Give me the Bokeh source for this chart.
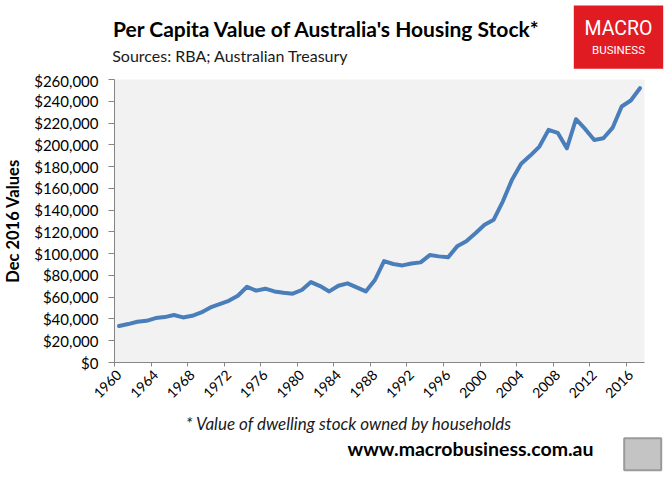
import numpy as np
from bokeh.plotting import figure
from bokeh.layouts import column
from bokeh.models import Label, FixedTicker, NumeralTickFormatter, Range1d
from bokeh.embed import file_html
from bokeh.resources import INLINE

years = list(range(1960, 2018))
values = [33500, 35300, 37400, 38300, 40800, 41700, 43600, 41400, 42900, 46000,
          50600, 53700, 56700, 61300, 69600, 66000, 67800, 65300, 64100, 63200,
          66600, 73900, 70200, 65300, 70500, 72700, 69000, 65300, 75800, 93200,
          90500, 89200, 91000, 92000, 98700, 97500, 96600, 106700, 111300, 118700,
          126600, 131200, 148100, 168000, 182500, 190100, 198400, 213700, 211000, 196800,
          223500, 214600, 204500, 206000, 215500, 235200, 240700, 252000]
tick_years = list(range(1960, 2017, 4))
y_ticks = list(range(0, 260001, 20000))

TITLE = "Per Capita Value of Australia's Housing Stock*"
SUBTITLE = "Sources: RBA; Australian Treasury"
YLABEL = "Dec 2016 Values"
FOOTNOTE = "* Value of dwelling stock owned by households"
URL = "www.macrobusiness.com.au"
LOGO1 = "MACRO"
LOGO2 = "BUSINESS"

FONT = "Lato"
W = 668


def blank(h):
    f = figure(width=W, height=h, output_backend="svg", toolbar_location=None,
               x_range=Range1d(0, W), y_range=Range1d(0, h),
               x_axis_type=None, y_axis_type=None, frame_align=False,
               min_border=0, min_border_left=0, min_border_right=0,
               min_border_top=0, min_border_bottom=0)
    f.outline_line_color = None
    f.grid.visible = False
    f.background_fill_color = "white"
    f.border_fill_color = "white"
    return f


def lab(f, text, x, y, size, style="normal", align="left", baseline="middle", color="black", font=FONT):
    f.add_layout(Label(x=x, y=y, text=text, text_font=font, text_font_size=size,
                       text_font_style=style, text_align=align, text_baseline=baseline,
                       text_color=color))


# ---- header ----
top = blank(71)
lab(top, TITLE, 326.5, 42.7, "21px", style="bold", align="center", baseline="alphabetic")
lab(top, SUBTITLE, 111.7, 16, "16px", baseline="alphabetic", color="#1a1a1a")
top.quad(left=[573.3], right=[662.7], top=[66], bottom=[2.7], fill_color="#E11B22", line_color=None)
lab(top, LOGO1, 618, 43, "19.5px", align="center", color="white", font="Roboto")
lab(top, LOGO2, 618, 21.5, "11.5px", align="center", color="white", font="Roboto")

# ---- main chart ----
p = figure(width=W, height=341, output_backend="svg", toolbar_location=None,
           x_range=Range1d(1959.5, 2017.5), y_range=Range1d(0, 260000), frame_align=False,
           min_border_left=111, min_border_right=24, min_border_top=8, min_border_bottom=50)
p.background_fill_color = "#F2F2F2"
p.border_fill_color = "white"
p.outline_line_color = None
p.xgrid.grid_line_color = None
p.ygrid.grid_line_color = None

p.line(years, values, line_width=4, line_color="#4A7EBB", line_join="round", line_cap="round")

p.xaxis.ticker = FixedTicker(ticks=tick_years, minor_ticks=[t - 0.5 for t in tick_years])
p.xaxis.major_label_overrides = {t: str(t) for t in tick_years}
p.xaxis.major_label_orientation = np.pi / 4
p.xaxis.major_tick_line_color = None
p.xaxis.major_tick_in = 0
p.xaxis.major_tick_out = 4
p.xaxis.minor_tick_in = 0
p.xaxis.minor_tick_out = 4
p.xaxis.minor_tick_line_color = "#868686"
p.xaxis.major_label_standoff = 6
p.xaxis.axis_line_color = "#868686"
p.xaxis.major_label_text_font = FONT
p.xaxis.major_label_text_font_size = "14px"
p.xaxis.major_label_text_color = "black"

p.yaxis.ticker = FixedTicker(ticks=y_ticks)
p.yaxis.formatter = NumeralTickFormatter(format="$0,0")
p.yaxis.minor_tick_line_color = None
p.yaxis.major_tick_in = 0
p.yaxis.major_tick_out = 6
p.yaxis.major_label_standoff = 10
p.yaxis.axis_line_color = "#868686"
p.yaxis.major_tick_line_color = "#868686"
p.yaxis.major_label_text_font = FONT
p.yaxis.major_label_text_font_size = "15px"
p.yaxis.major_label_text_color = "black"
p.yaxis.axis_label = YLABEL
p.yaxis.axis_label_text_font = FONT
p.yaxis.axis_label_text_font_style = "bold"
p.yaxis.axis_label_text_font_size = "16.5px"
p.yaxis.axis_label_text_color = "black"
p.yaxis.axis_label_standoff = 8

# ---- footer ----
bot = blank(66)
lab(bot, FOOTNOTE, 348.5, 55, "17px", style="italic", align="center", color="#1a1a1a")
lab(bot, URL, 470, 30.3, "19.5px", style="bold", align="center")
bot.quad(left=[623.7], right=[660.7], top=[40.3], bottom=[8.3], fill_color="#C4C4C4",
         line_color="#9A9A9A", line_width=2)

layout = column(top, p, bot, spacing=0)
open("out.html", "w").write(file_html(layout, INLINE))
